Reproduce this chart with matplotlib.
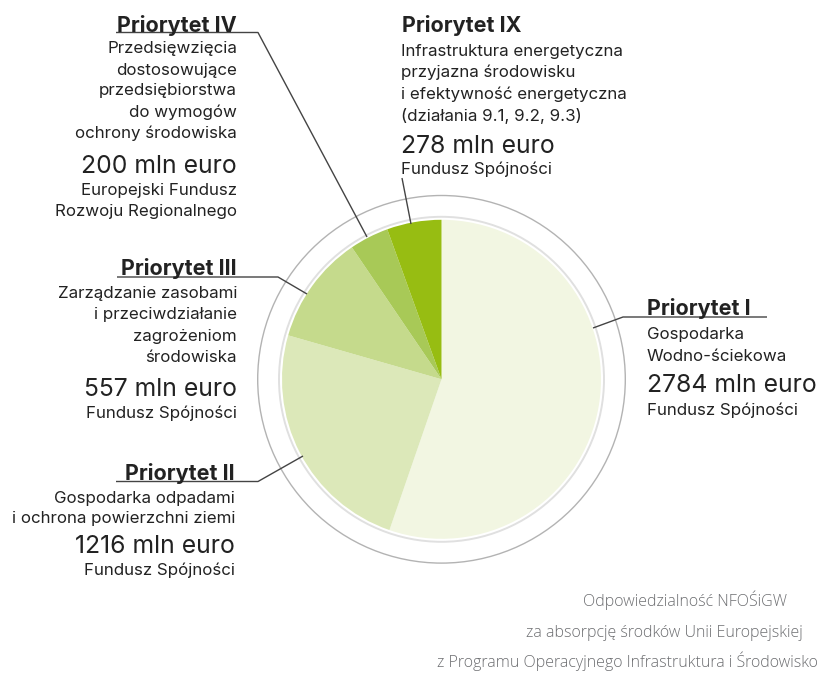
import matplotlib
matplotlib.use("Agg")
import matplotlib.pyplot as plt
from matplotlib.patches import Circle

# ---- data ----
priorities = ["Priorytet I", "Priorytet II", "Priorytet III", "Priorytet IV", "Priorytet IX"]
values = [2784, 1216, 557, 200, 278]
descriptions = [
    ["Gospodarka", "Wodno-ściekowa"],
    ["Gospodarka odpadami", "i ochrona powierzchni ziemi"],
    ["Zarządzanie zasobami", "i przeciwdziałanie", "zagrożeniom", "środowiska"],
    ["Przedsięwzięcia", "dostosowujące", "przedsiębiorstwa", "do wymogów", "ochrony środowiska"],
    ["Infrastruktura energetyczna", "przyjazna środowisku", "i efektywność energetyczna",
     "(działania 9.1, 9.2, 9.3)"],
]
funds = [
    ["Fundusz Spójności"],
    ["Fundusz Spójności"],
    ["Fundusz Spójności"],
    ["Europejski Fundusz", "Rozwoju Regionalnego"],
    ["Fundusz Spójności"],
]
footer = ["Odpowiedzialność NFOŚiGW",
          "za absorpcję środków Unii Europejskiej",
          "z Programu Operacyjnego Infrastruktura i Środowisko"]

colors = ["#f2f6e2", "#dce8b9", "#c5da8c", "#a8c957", "#97bd12"]

# ---- layout (pixel coordinates, y from top) ----
W, H = 821, 673
CX, CY, R = 441.5, 379.3, 159.5

def Y(y):
    return H - y

fig = plt.figure(figsize=(W / 100, H / 100), dpi=100)
ax = fig.add_axes([0, 0, 1, 1])

ax.pie(values, colors=colors, startangle=90, counterclock=False,
       center=(CX, Y(CY)), radius=R, wedgeprops=dict(linewidth=0))
ax.add_patch(Circle((CX, Y(CY)), 162.5, fill=False, ec="#e0e0e0", lw=1.4))
ax.add_patch(Circle((CX, Y(CY)), 183.8, fill=False, ec="#b3b3b3", lw=1.0))

ax.set_xlim(0, W)
ax.set_ylim(0, H)
ax.set_aspect("equal")
ax.axis("off")

FONT = ["Inter", "DejaVu Sans"]
TXT = "#222222"
LINE = "#444444"
S_TITLE, S_BODY, S_AMT = 15.5, 12.2, 17.8

layout = [
    dict(tx=647, ty=315, tha="left", bx=647, bha="left", body=[339, 361], amt=392, fund=[415],
         line=[(767, 317), (623, 317), (593, 328)]),
    dict(tx=235, ty=480.5, tha="right", bx=235, bha="right", body=[503, 523.5], amt=553, fund=[575],
         line=[(116, 481.5), (258, 481.5), (303, 456)]),
    dict(tx=237, ty=275, tha="right", bx=237, bha="right", body=[298, 319.5, 341, 362], amt=396,
         fund=[418], line=[(117, 277), (278, 277), (307, 294)]),
    dict(tx=117, ty=31.5, tha="left", bx=237, bha="right", body=[53, 74.5, 95.5, 117, 138.3], amt=173,
         fund=[195, 216], line=[(116, 32.5), (258, 32.5), (367, 237)]),
    dict(tx=402, ty=32, tha="left", bx=401, bha="left", body=[56, 77.5, 99, 120.5], amt=153,
         fund=[174], line=[(402, 178), (411, 224)]),
]

for i, L in enumerate(layout):
    ax.text(L["tx"], Y(L["ty"]), priorities[i], ha=L["tha"], va="baseline",
            fontsize=S_TITLE, fontweight="bold", family=FONT, color=TXT)
    for s, yb in zip(descriptions[i], L["body"]):
        ax.text(L["bx"], Y(yb), s, ha=L["bha"], va="baseline", fontsize=S_BODY, family=FONT, color=TXT)
    ax.text(L["bx"], Y(L["amt"]), f"{values[i]} mln euro", ha=L["bha"], va="baseline",
            fontsize=S_AMT, family=FONT, color=TXT)
    for s, yb in zip(funds[i], L["fund"]):
        ax.text(L["bx"], Y(yb), s, ha=L["bha"], va="baseline", fontsize=S_BODY, family=FONT, color=TXT)
    xs = [p[0] for p in L["line"]]
    ys = [Y(p[1]) for p in L["line"]]
    ax.plot(xs, ys, color=LINE, lw=1.0, solid_capstyle="butt")

footer_x = [787, 803, 818]
footer_y = [606, 637, 667]
for s, x, y in zip(footer, footer_x, footer_y):
    ax.text(x, Y(y), s, ha="right", va="baseline", fontsize=11.5, fontweight="light",
            family=["Open Sans", "DejaVu Sans"], color="#6d6e71")

fig.savefig("out.png", dpi=100)
